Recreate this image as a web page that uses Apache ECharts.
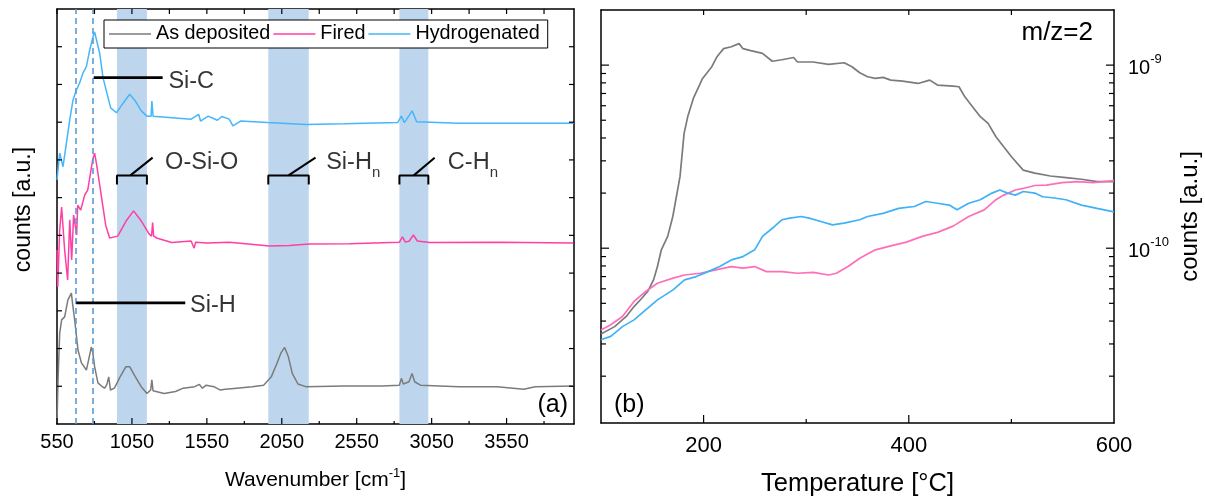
<!DOCTYPE html>
<html><head><meta charset="utf-8">
<script src="https://cdn.jsdelivr.net/npm/echarts@6/dist/echarts.min.js"></script>
<style>html,body{margin:0;padding:0;background:#fff}#c{width:1205px;height:497px}</style>
</head><body><div id="c"></div><script>
// ---------- Panel (a): FTIR spectra (offset, arbitrary units) ----------
const asDepWn = [550,557,568,581,601,623,646,655,668,690,713,746,761,779,788,801,823,855,869,883,895,907,933,971,1010,1035,1073,1112,1150,1175,1183,1191,1265,1341,1392,1469,1500,1520,1546,1597,1640,1673,1750,1852,1929,1980,2018,2043,2069,2094,2120,2158,2209,2465,2720,2835,2848,2861,2899,2919,2937,2975,3231,3486,3665,3741,3997];
const asDepVal = [0.03,1.17,2.41,2.76,2.84,3.29,3.47,3.15,2.76,1.96,1.62,1.43,1.70,2.04,1.91,1.52,1.09,0.98,0.95,1.05,1.25,0.90,0.95,1.25,1.52,1.52,1.25,0.99,0.81,0.90,1.17,0.88,0.81,0.86,0.95,0.99,1.05,0.95,1.03,0.99,0.90,0.92,0.95,0.99,1.03,1.25,1.61,1.87,2.03,1.78,1.34,1.06,0.99,1.01,1.01,1.03,1.21,1.06,1.12,1.34,1.12,1.03,0.99,0.99,0.92,0.99,1.01];
const firedWn = [550,555,568,581,601,621,635,648,661,681,688,708,735,755,775,788,801,815,835,855,875,901,955,1011,1061,1113,1164,1181,1188,1195,1215,1315,1445,1465,1475,1550,1701,1968,2100,2235,2501,2835,2855,2875,2901,2928,2955,3035,3501,3995];
const firedVal = [4.61,3.63,5.14,5.75,4.61,3.82,5.41,4.35,5.54,5.01,5.80,5.67,6.07,6.20,6.68,7.00,7.18,6.86,6.33,5.80,5.27,4.93,4.98,5.38,5.65,5.38,5.04,4.98,5.34,4.98,4.93,4.81,4.85,4.66,4.82,4.80,4.82,4.72,4.73,4.77,4.78,4.82,4.96,4.82,4.85,5.01,4.85,4.81,4.82,4.80];
const hydWn = [550,568,590,613,635,657,679,701,723,746,768,790,801,835,857,908,947,985,1035,1073,1113,1150,1178,1183,1191,1317,1445,1495,1508,1559,1620,1650,1699,1724,1775,1955,2210,2465,2823,2848,2868,2920,2950,3231,3998];
const hydVal = [6.47,7.18,6.82,7.45,8.06,8.59,8.85,9.04,9.30,9.47,9.91,10.26,10.39,9.82,9.18,8.38,8.25,8.47,8.74,8.56,8.30,8.16,8.16,8.56,8.16,8.12,8.08,8.21,8.03,8.16,8.05,8.15,8.08,7.90,8.03,7.99,7.94,7.96,7.99,8.16,7.99,8.30,8.01,7.97,7.97];
const bandRanges = [[950,1150],[1960,2230],[2835,3028]];
const dashedWn = [675, 790];
const ftirTickLabels = [550,1050,1550,2050,2550,3050,3550];
const ftirMinorTicks = [800,1300,1800,2300,2800,3300,3800];
const ftirYTicks = [1,2,3,4,5,6,7,8,9,10];

// ---------- Panel (b): TDS m/z=2 ----------
const gTemp = [100,113.3,124.6,132.2,139.8,145.5,151.2,155,158.8,165,170,177,181,184.5,190,199,208,213,219.5,227,234.6,238.4,246,257.4,266.9,276.3,287.7,291.5,306.7,321.8,337,344.6,352.2,359.8,367.4,374.9,382.5,393.9,409,420.4,428,443.2,448.9,454.6,462.1,469.7,477.3,484.9,492.5,500.1,511.5,522.8,538,553.2,568.3,583.5,600];
const gCounts = [3.4e-11,3.73e-11,4.24e-11,4.8e-11,5.33e-11,5.8e-11,6.71e-11,7.94e-11,9.8e-11,1.16e-10,1.49e-10,2.46e-10,4.24e-10,5.22e-10,6.58e-10,8.46e-10,9.8e-10,1.11e-9,1.23e-9,1.26e-9,1.31e-9,1.23e-9,1.2e-9,1.16e-9,1.05e-9,1.07e-9,1.1e-9,1.04e-9,1.04e-9,1.01e-9,1.03e-9,9.8e-10,9.08e-10,8.64e-10,8.46e-10,8.57e-10,8.28e-10,8.18e-10,7.94e-10,8.28e-10,7.78e-10,7.68e-10,7.62e-10,6.71e-10,5.93e-10,5.23e-10,4.81e-10,4.06e-10,3.58e-10,3.16e-10,2.67e-10,2.57e-10,2.48e-10,2.43e-10,2.38e-10,2.31e-10,2.31e-10];
const pTemp = [100,109.5,120.9,132.2,143.6,155,170.2,181.5,196.7,211.9,227,238.4,249.8,261.2,276.3,291.5,306.7,321.8,329.4,340.8,352.2,367.4,382.5,397.7,412.9,428,443.2,458.4,473.5,484.9,492.5,503.9,511.5,522.8,534.2,549.4,564.5,579.7,600];
const pCounts = [3.58e-11,3.82e-11,4.24e-11,5.12e-11,5.8e-11,6.44e-11,6.86e-11,7.14e-11,7.3e-11,7.62e-11,7.94e-11,7.78e-11,7.94e-11,7.45e-11,7.45e-11,7.3e-11,7.38e-11,7.14e-11,7.3e-11,7.94e-11,8.81e-11,9.8e-11,1.03e-10,1.08e-10,1.16e-10,1.22e-10,1.32e-10,1.49e-10,1.62e-10,1.84e-10,1.95e-10,2.08e-10,2.12e-10,2.2e-10,2.21e-10,2.28e-10,2.31e-10,2.28e-10,2.34e-10];
const hTemp = [100,109.5,120.9,132.2,143.6,155,170.2,181.5,192.9,204.3,215.7,227,238.4,249.8,257.4,268.8,276.3,283.9,295.3,302.9,314.3,325.6,337,352.2,359.8,374.9,390.1,405.3,416.6,428,439.4,447,458.4,469.7,481.1,488.7,496.3,503.9,511.5,522.8,530.4,541.8,553.2,568.3,583.5,600];
const hCounts = [3.16e-11,3.3e-11,3.73e-11,4.06e-11,4.6e-11,5.22e-11,5.92e-11,6.71e-11,7.0e-11,7.45e-11,7.94e-11,8.63e-11,9.0e-11,9.8e-11,1.16e-10,1.31e-10,1.43e-10,1.46e-10,1.49e-10,1.46e-10,1.4e-10,1.34e-10,1.37e-10,1.43e-10,1.49e-10,1.55e-10,1.65e-10,1.69e-10,1.8e-10,1.76e-10,1.72e-10,1.62e-10,1.76e-10,1.84e-10,2.0e-10,2.08e-10,2.0e-10,1.95e-10,2.04e-10,2.0e-10,1.91e-10,1.88e-10,1.84e-10,1.72e-10,1.65e-10,1.58e-10];
const tdsTickLabels = [200,400,600];
const tdsMajorTicks = [200,400];
const tdsMinorTicks = [300,500];
const logMajor = [1e-10,1e-9];
const logMinor = [2e-11,3e-11,4e-11,5e-11,6e-11,7e-11,8e-11,9e-11,2e-10,3e-10,4e-10,5e-10,6e-10,7e-10,8e-10,9e-10];

// annotation geometry (data coordinates of panel a)
const annot = {
  thick: [ [[795,9.18],[1255,9.18]], [[678,3.21],[1406,3.21]] ],
  thin: [
    [[950,6.35],[950,6.59],[1150,6.59],[1150,6.35]], [[1040,6.59],[1188,7.06]],
    [[1960,6.35],[1960,6.59],[2230,6.59],[2230,6.35]], [[2095,6.59],[2275,7.06]],
    [[2835,6.35],[2835,6.59],[3028,6.59],[3028,6.35]], [[2931,6.59],[3070,7.06]]
  ],
  texts: [
    {pos:[1290,9.09], text:'Si-C'},
    {pos:[1435,3.15], text:'Si-H'},
    {pos:[1268,6.92], text:'O-Si-O'},
    {pos:[2343,6.92], text:'Si-H{sub|n}'},
    {pos:[3155,6.92], text:'C-H{sub|n}'}
  ]
};

const FONT = '"Liberation Sans", Arial, Helvetica, sans-serif';
const GRAY = '#7b7b7b', PINK = '#ff3fa3', BLUE = '#44b6fa';
const PINK2 = '#ff6eb8', BLUE2 = '#3fb2f7';
const zip = (xs, ys) => xs.map((x, i) => [x, ys[i]]);

function ticks(xi, yi, dim, pts, lenA, lenB) {
  return {
    type: 'custom', xAxisIndex: xi, yAxisIndex: yi, silent: true, clip: false, z: 20,
    data: pts, encode: {x: 0, y: 1},
    renderItem: (params, api) => {
      const cs = params.coordSys;
      const p = api.coord([api.value(0), api.value(1)]);
      const st = {stroke: '#000', lineWidth: 1.2};
      const ch = [];
      if (dim === 'x') {
        const b = cs.y + cs.height, t = cs.y;
        if (lenA) ch.push({type: 'line', shape: {x1: p[0], y1: b, x2: p[0], y2: b - lenA}, style: st});
        if (lenB) ch.push({type: 'line', shape: {x1: p[0], y1: t, x2: p[0], y2: t + lenB}, style: st});
      } else {
        const l = cs.x, r = cs.x + cs.width;
        if (lenA) ch.push({type: 'line', shape: {x1: l, y1: p[1], x2: l + lenA, y2: p[1]}, style: st});
        if (lenB) ch.push({type: 'line', shape: {x1: r, y1: p[1], x2: r - lenB, y2: p[1]}, style: st});
      }
      return {type: 'group', children: ch};
    }
  };
}

const axisLine = {show: true, onZero: false, lineStyle: {color: '#000', width: 1.5}};
const noTick = {show: false};

const series = [];
series.push({
  type: 'line', xAxisIndex: 0, yAxisIndex: 0, data: [], z: 1, silent: true,
  markArea: {silent: true, itemStyle: {color: '#bdd6ee', opacity: 1},
    data: bandRanges.map(b => [{xAxis: b[0]}, {xAxis: b[1]}])},
  markLine: {silent: true, symbol: ['none', 'none'], label: {show: false}, animation: false,
    lineStyle: {color: '#5b9bd5', type: [6, 4], width: 1.6},
    data: dashedWn.map(d => ({xAxis: d}))}
});
const spec = (name, xs, ys, color, xi, yi, w, z) => ({
  name, type: 'line', xAxisIndex: xi, yAxisIndex: yi, data: zip(xs, ys),
  showSymbol: false, symbol: 'none', z: z || 3, silent: true,
  lineStyle: {color, width: w}, itemStyle: {color}
});
series.push(spec('As deposited', asDepWn, asDepVal, GRAY, 0, 0, 1.5));
series.push(spec('Fired', firedWn, firedVal, PINK, 0, 0, 1.5));
series.push(spec('Hydrogenated', hydWn, hydVal, BLUE, 0, 0, 1.5));
annot.thick.forEach(l => series.push({type: 'line', xAxisIndex: 0, yAxisIndex: 0, data: l, symbol: 'none', silent: true, z: 5, lineStyle: {color: '#000', width: 2.6}}));
annot.thin.forEach(l => series.push({type: 'line', xAxisIndex: 0, yAxisIndex: 0, data: l, symbol: 'none', silent: true, z: 5, lineStyle: {color: '#000', width: 2}}));
series.push({
  type: 'scatter', xAxisIndex: 0, yAxisIndex: 0, symbolSize: 1, silent: true, z: 6,
  itemStyle: {color: 'rgba(0,0,0,0)'},
  data: annot.texts.map(t => ({value: t.pos, label: {formatter: t.text}})),
  label: {show: true, position: 'right', distance: 0, color: '#000', fontSize: 23.5, fontFamily: FONT,
    rich: {sub: {fontSize: 15, verticalAlign: 'bottom', lineHeight: 34, fontFamily: FONT, color: '#000'}}}
});
series.push(spec('As deposited b', gTemp, gCounts, GRAY, 2, 2, 1.7));
series.push(spec('Fired b', pTemp, pCounts, PINK2, 2, 2, 1.7));
series.push(spec('Hydrogenated b', hTemp, hCounts, BLUE2, 2, 2, 1.7));
series.push(ticks(0, 0, 'x', ftirTickLabels.map(v => [v, 5]), 6, 5));
series.push(ticks(0, 0, 'x', ftirMinorTicks.map(v => [v, 5]), 3, 5));
series.push(ticks(0, 0, 'y', ftirYTicks.map(v => [1000, v]), 5, 5));
series.push(ticks(2, 2, 'x', tdsMajorTicks.map(v => [v, 1e-10]), 8, 5));
series.push(ticks(2, 2, 'x', tdsMinorTicks.map(v => [v, 1e-10]), 4, 5));
series.push(ticks(2, 2, 'y', logMajor.map(v => [300, v]), 8, 8));
series.push(ticks(2, 2, 'y', logMinor.map(v => [300, v]), 5, 5));

const option = {
  animation: false,
  backgroundColor: '#fff',
  textStyle: {fontFamily: FONT},
  grid: [
    {left: 57, top: 9, width: 517, height: 415, containLabel: false, outerBoundsMode: 'none'},
    {left: 601, top: 10, width: 513, height: 413, containLabel: false, outerBoundsMode: 'none'}
  ],
  legend: {
    data: ['As deposited', 'Fired', 'Hydrogenated'],
    icon: 'rect', left: 104, top: 20, itemWidth: 42, itemHeight: 1.6, itemGap: 3,
    padding: [4, 8, 4, 5], borderColor: '#000', borderWidth: 1, borderRadius: 0,
    backgroundColor: '#fff', selectedMode: false,
    textStyle: {fontSize: 19.8, color: '#000', fontFamily: FONT, lineHeight: 20}
  },
  xAxis: [
    {gridIndex: 0, type: 'value', min: 550, max: 4000, position: 'bottom', axisLine, axisTick: noTick, splitLine: {show: false},
      axisLabel: {customValues: ftirTickLabels, formatter: v => String(v), fontSize: 20, color: '#000', margin: 8, fontFamily: FONT},
      name: '{base|Wavenumber [cm}{sup|-1}{base|]}', nameLocation: 'middle', nameGap: 43,
      nameTextStyle: {fontSize: 21, color: '#000', rich: {
        base: {fontSize: 21, fontFamily: FONT, color: '#000', lineHeight: 26},
        sup: {fontSize: 13, verticalAlign: 'top', fontFamily: FONT, color: '#000', lineHeight: 26}}}},
    {gridIndex: 0, type: 'value', min: 550, max: 4000, position: 'top', axisLine, axisTick: noTick, axisLabel: {show: false}, splitLine: {show: false}},
    {gridIndex: 1, type: 'value', min: 100, max: 600, position: 'bottom', axisLine, axisTick: noTick, splitLine: {show: false},
      axisLabel: {customValues: tdsTickLabels, formatter: v => String(v), fontSize: 22, color: '#000', margin: 12, fontFamily: FONT},
      name: 'Temperature [°C]', nameLocation: 'middle', nameGap: 48,
      nameTextStyle: {fontSize: 25.5, color: '#000', fontFamily: FONT}},
    {gridIndex: 1, type: 'value', min: 100, max: 600, position: 'top', axisLine, axisTick: noTick, axisLabel: {show: false}, splitLine: {show: false}}
  ],
  yAxis: [
    {gridIndex: 0, type: 'value', min: 0, max: 11, position: 'left', axisLine, axisTick: noTick, axisLabel: {show: false}, splitLine: {show: false},
      name: 'counts [a.u.]', nameLocation: 'middle', nameGap: 22, nameRotate: 90,
      nameTextStyle: {fontSize: 23, color: '#000', fontFamily: FONT, padding: [0, 0, 0, 14]}},
    {gridIndex: 0, type: 'value', min: 0, max: 11, position: 'right', axisLine, axisTick: noTick, axisLabel: {show: false}, splitLine: {show: false}},
    {gridIndex: 1, type: 'log', min: 1.11e-11, max: 2e-9, position: 'left', axisLine, axisTick: noTick, axisLabel: {show: false}, splitLine: {show: false}},
    {gridIndex: 1, type: 'log', min: 1.11e-11, max: 2e-9, position: 'right', axisLine, axisTick: noTick, splitLine: {show: false},
      axisLabel: {customValues: logMajor, margin: 14, color: '#000',
        formatter: v => '{b|10}{s|' + Math.round(Math.log10(v)) + '}',
        rich: {b: {fontSize: 20, fontFamily: FONT, color: '#000', lineHeight: 24, padding: [6, 0, 0, 0]}, s: {fontSize: 13, fontFamily: FONT, color: '#000', verticalAlign: 'top', lineHeight: 24}}},
      name: 'counts [a.u.]', nameLocation: 'middle', nameGap: 64, nameRotate: 90,
      nameTextStyle: {fontSize: 24, color: '#000', fontFamily: FONT}}
  ],
  graphic: [
    {type: 'text', right: 1205 - 568, top: 393, style: {text: '(a)', fontSize: 25, fontFamily: FONT, fill: '#000'}},
    {type: 'text', left: 614, top: 393, style: {text: '(b)', fontSize: 25, fontFamily: FONT, fill: '#000'}},
    {type: 'text', right: 1205 - 1093, top: 20, style: {text: 'm/z=2', fontSize: 26, fontFamily: FONT, fill: '#000'}}
  ],
  series
};
const chart = echarts.init(document.getElementById('c'));
chart.setOption(option);
</script></body></html>
